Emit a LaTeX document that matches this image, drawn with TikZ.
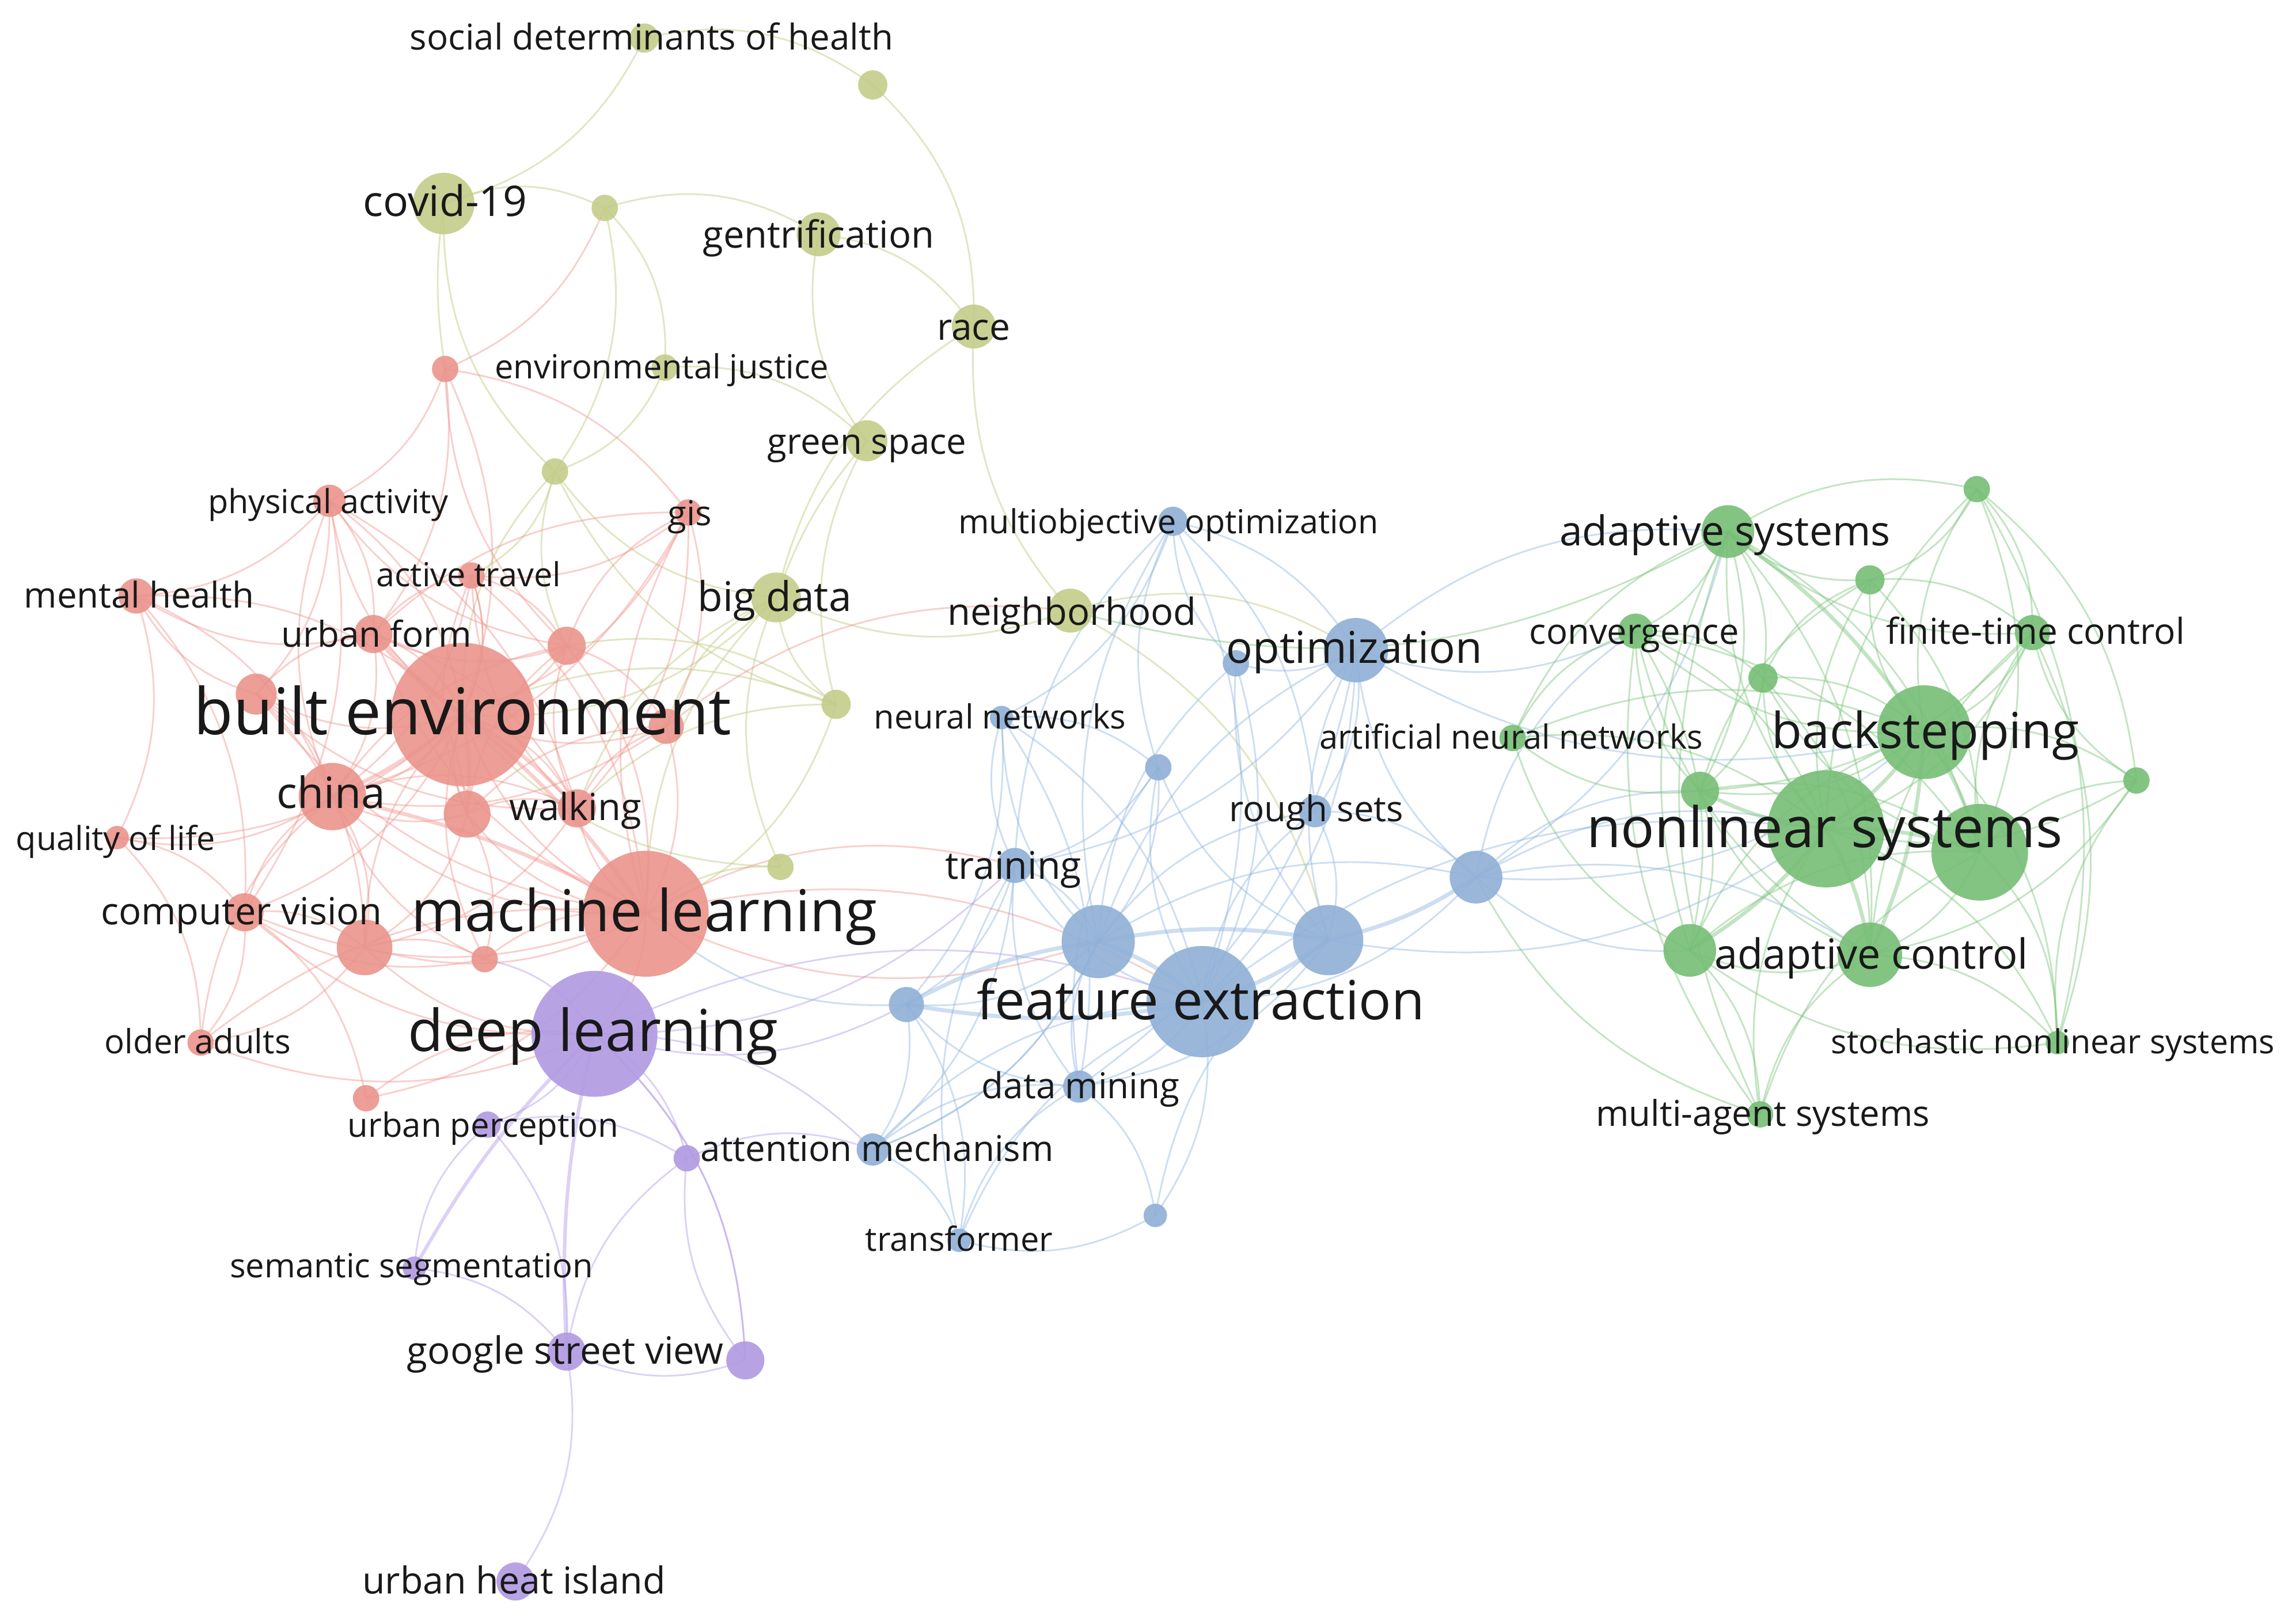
\documentclass[tikz,border=0pt]{standalone}
\usepackage{fontspec}
\setmainfont{Open Sans}
\usepackage{graphicx}
\definecolor{cred}{RGB}{234,148,140}
\definecolor{cyel}{RGB}{196,204,138}
\definecolor{cblu}{RGB}{144,176,215}
\definecolor{cgrn}{RGB}{118,190,118}
\definecolor{cpur}{RGB}{176,154,226}
\definecolor{ered}{RGB}{240,150,142}
\definecolor{eyel}{RGB}{202,210,146}
\definecolor{eblu}{RGB}{146,182,224}
\definecolor{egrn}{RGB}{122,196,122}
\definecolor{epur}{RGB}{180,154,234}
\definecolor{ctext}{RGB}{25,25,25}
\pgfdeclarelayer{edges}
\pgfsetlayers{edges,main}
\tikzset{
  kwbase/.style={circle, inner sep=0pt, draw=none, fill opacity=0.9},
  nred/.style={kwbase, fill=cred},
  nyel/.style={kwbase, fill=cyel},
  nblu/.style={kwbase, fill=cblu},
  ngrn/.style={kwbase, fill=cgrn},
  npur/.style={kwbase, fill=cpur},
  lab/.style={inner sep=0pt, text=ctext},
  ebase/.style={line width=1.15pt, draw opacity=0.45},
  ered/.style={ebase, draw=ered},
  eyel/.style={ebase, draw=eyel, draw opacity=0.55},
  eblu/.style={ebase, draw=eblu},
  egrn/.style={ebase, draw=egrn},
  epur/.style={ebase, draw=epur}
}
\newcommand\kwnode[5]{\node[#1, minimum size=2*#5pt] (#2) at (#3,#4) {};}
\newcommand\kwlabel[5]{\node[lab] (#1) at (#2,#3) {\resizebox{#4pt}{!}{\smash{#5}\vphantom{x}}};}
\begin{document}
\begin{tikzpicture}[x=1pt, y=-1pt]
\begin{pgfonlayer}{edges}
\fill[white] (0,0) rectangle (1568,1109);
\end{pgfonlayer}
\useasboundingbox (0,0) rectangle (1568,1109);
% ---------- nodes: yellow cluster
\kwnode{nyel}{sdoh}{440}{26}{10}
\kwnode{nyel}{y1}{596}{58}{10}
\kwnode{nyel}{covid}{303}{139}{21}
\kwnode{nyel}{y2}{413}{142}{9}
\kwnode{nyel}{gent}{559}{160}{15}
\kwnode{nyel}{race}{665}{223}{15}
\kwnode{nyel}{envj}{454}{251}{9}
\kwnode{nyel}{green}{592}{301}{14}
\kwnode{nyel}{y3}{379}{322}{9}
\kwnode{nyel}{bigdata}{530}{408}{17}
\kwnode{nyel}{neigh}{731}{417}{15}
\kwnode{nyel}{y4}{571}{481}{10}
\kwnode{nyel}{y5}{533}{592}{9}
% red cluster
\kwnode{nred}{r1}{304}{252}{9}
\kwnode{nred}{phys}{225}{342}{11}
\kwnode{nred}{gis}{470}{350}{9}
\kwnode{nred}{mental}{93}{407}{12}
\kwnode{nred}{active}{322}{393}{9}
\kwnode{nred}{urbform}{255}{433}{13}
\kwnode{nred}{r2}{387}{441}{13}
\kwnode{nred}{built}{316}{488}{49}
\kwnode{nred}{r3}{175}{474}{14}
\kwnode{nred}{r4}{455}{496}{12}
\kwnode{nred}{china}{227}{544}{23}
\kwnode{nred}{r5}{319}{556}{16}
\kwnode{nred}{walking}{394}{552}{13}
\kwnode{nred}{qol}{80}{572}{8}
\kwnode{nred}{cv}{167}{623}{13}
\kwnode{nred}{ml}{441}{624}{43}
\kwnode{nred}{r6}{249}{647}{19}
\kwnode{nred}{r7}{331}{655}{9}
\kwnode{nred}{older}{137}{712}{9}
\kwnode{nred}{r8}{250}{750}{9}
% purple cluster
\kwnode{npur}{deep}{406}{706}{43}
\kwnode{npur}{urbper}{333}{768}{9}
\kwnode{npur}{p1}{469}{791}{9}
\kwnode{npur}{semseg}{283}{866}{8}
\kwnode{npur}{gsv}{387}{923}{13}
\kwnode{npur}{p2}{509}{929}{13}
\kwnode{npur}{uhi}{352}{1080}{13}
% blue cluster
\kwnode{nblu}{multi}{801}{356}{10}
\kwnode{nblu}{opt}{926}{444}{22}
\kwnode{nblu}{b1}{844}{453}{9}
\kwnode{nblu}{nn}{684}{490}{8}
\kwnode{nblu}{b2}{791}{524}{9}
\kwnode{nblu}{rough}{898}{554}{11}
\kwnode{nblu}{training}{693}{591}{12}
\kwnode{nblu}{b3}{1008}{599}{18}
\kwnode{nblu}{b4}{750}{643}{25}
\kwnode{nblu}{b5}{907}{642}{24}
\kwnode{nblu}{fe}{821}{684}{38}
\kwnode{nblu}{b6}{619}{686}{12}
\kwnode{nblu}{dm}{737}{742}{11}
\kwnode{nblu}{attn}{596}{785}{11}
\kwnode{nblu}{b7}{789}{830}{8}
\kwnode{nblu}{transf}{655}{847}{8}
% green cluster
\kwnode{ngrn}{ann}{1033}{504}{9}
\kwnode{ngrn}{adsys}{1180}{363}{18}
\kwnode{ngrn}{g1}{1350}{334}{9}
\kwnode{ngrn}{g2}{1277}{396}{10}
\kwnode{ngrn}{conv}{1117}{431}{12}
\kwnode{ngrn}{ftc}{1388}{432}{12}
\kwnode{ngrn}{g3}{1204}{463}{10}
\kwnode{ngrn}{back}{1314}{500}{32}
\kwnode{ngrn}{g4}{1459}{533}{9}
\kwnode{ngrn}{g5}{1161}{540}{13}
\kwnode{ngrn}{nls}{1247}{566}{40}
\kwnode{ngrn}{g6}{1352}{582}{33}
\kwnode{ngrn}{g7}{1154}{649}{18}
\kwnode{ngrn}{adctrl}{1277}{652}{22}
\kwnode{ngrn}{snls}{1405}{712}{8}
\kwnode{ngrn}{mas}{1202}{761}{9}
% ---------- edges
\begin{pgfonlayer}{edges}
% yellow
\foreach \a/\b in {sdoh/covid, sdoh/y1, y1/race, covid/y2, y2/gent, gent/race, y2/envj, y2/y3, envj/green, envj/y3, green/gent, y3/covid, y4/bigdata, bigdata/y3, y4/y3, y5/bigdata, neigh/b5, neigh/opt, bigdata/built, y3/active, y4/ml, y5/built}
  \draw[eyel] (\a.center) to[bend left=24] (\b.center);
\foreach \a/\b in {race/bigdata, race/neigh, bigdata/neigh, green/y4, y4/built, y5/ml, bigdata/walking, y3/built, bigdata/ml, y4/r2, y3/r2, bigdata/r4, y4/walking}
  \draw[eyel] (\a.center) to[bend right=22] (\b.center);
\draw[eyel] (covid.center) to[bend right=8] (r1.center);
\draw[eyel] (green.center) to[bend right=10] (bigdata.center);
% red
\foreach \a/\b in {y2/r1, r1/phys, r1/built, r1/gis, r1/urbform, phys/mental, phys/urbform, phys/walking, phys/r3, gis/built, gis/active, gis/china, gis/walking, mental/built, mental/china, mental/cv, active/built, active/r2, active/china, urbform/built, urbform/china, urbform/walking, r2/built, r2/ml, r2/r4, built/r3, built/china, built/walking, built/cv, built/qol, r3/china, r3/r6, r4/ml, r4/china, china/walking, china/r6, china/qol, r5/walking, r5/r6, qol/cv, qol/older, cv/r6, cv/older, cv/r8, ml/r6, ml/deep, ml/training, ml/fe, r6/r7, r8/deep, r4/neigh, phys/cv, ml/urbform, ml/r3, r6/older, r5/r7, urbform/r5, walking/r6, gis/r4}
  \draw[ered] (\a.center) to[bend left=22] (\b.center);
\foreach \a/\b in {r1/r2, phys/built, phys/china, phys/r2, gis/r2, gis/urbform, gis/ml, mental/r3, mental/urbform, active/urbform, active/walking, active/r5, urbform/r3, urbform/r2, r2/walking, r2/china, built/r4, built/r5, built/ml, built/r6, built/r7, r4/walking, china/r5, china/cv, china/ml, china/r7, r5/ml, walking/ml, qol/mental, cv/ml, cv/deep, ml/r7, ml/b4, ml/older, r6/deep, r8/ml, older/deep, built/phys, ml/active, china/older, cv/r7, r3/walking, r2/r5, r4/r5, built/active}
  \draw[ered] (\a.center) to[bend right=22] (\b.center);
\foreach \a/\b in {built/ml, built/china, built/r5, built/walking, built/urbform, china/ml}
  \draw[ered, line width=2.6pt] (\a.center) to[bend left=8] (\b.center);
% purple
\foreach \a/\b in {deep/urbper, deep/p1, deep/p2, deep/attn, deep/fe, urbper/gsv, semseg/gsv, gsv/p1, gsv/uhi, urbper/p1, p1/attn}
  \draw[epur] (\a.center) to[bend left=22] (\b.center);
\foreach \a/\b in {deep/training, deep/r7, urbper/semseg, gsv/p2, p1/p2, deep/b6, p2/deep}
  \draw[epur] (\a.center) to[bend right=22] (\b.center);
\foreach \a/\b in {deep/gsv, deep/semseg}
  \draw[epur, line width=2.4pt] (\a.center) to[bend right=8] (\b.center);
% blue
\foreach \a/\b in {multi/nn, multi/opt, multi/fe, opt/b1, opt/fe, opt/rough, opt/training, b1/fe, nn/b2, nn/fe, nn/b6, b2/b4, b2/training, rough/b5, rough/b3, training/b4, training/b6, training/attn, b3/fe, b4/b6, b4/attn, b5/dm, fe/dm, fe/b7, b6/attn, b6/transf, dm/b7, attn/transf, b6/ml, b3/nls, b3/g5, b3/conv, b3/adctrl, opt/adsys, fe/nls, multi/rough, nn/dm, opt/dm, b7/b5}
  \draw[eblu] (\a.center) to[bend left=22] (\b.center);
\foreach \a/\b in {multi/b1, multi/training, multi/b4, opt/b5, opt/b3, opt/b4, b1/b5, b1/b4, nn/training, nn/b4, b2/fe, b2/b5, rough/fe, rough/b4, training/fe, training/dm, b3/b4, b4/dm, fe/attn, fe/transf, b6/dm, dm/attn, dm/transf, transf/b7, b3/back, b3/adsys, b3/g7, opt/conv, opt/back, b5/nls, multi/b2, b2/dm, training/transf, attn/b4}
  \draw[eblu] (\a.center) to[bend right=22] (\b.center);
\foreach \a/\b in {b4/fe, b5/fe, fe/b6, b3/b5, b6/b4, b4/b5}
  \draw[eblu, line width=2.8pt] (\a.center) to[bend left=10] (\b.center);
% green
\foreach \a/\b in {adsys/g1, adsys/conv, adsys/g3, adsys/g5, adsys/g6, adsys/adctrl, g1/ftc, g1/g6, g1/g4, g1/g2, g2/ftc, g2/g6, conv/g3, conv/nls, conv/g7, conv/g6, ftc/back, ftc/nls, ftc/snls, g3/back, g3/g5, back/g4, back/g5, back/snls, g4/nls, g4/adctrl, g5/g7, g5/g6, nls/snls, g6/adctrl, g6/snls, g7/mas, adctrl/snls, ann/back, ann/conv, ann/adsys, mas/b3, adsys/neigh, g1/snls, g3/adctrl, ftc/g5}
  \draw[egrn] (\a.center) to[bend left=22] (\b.center);
\foreach \a/\b in {adsys/g2, adsys/ftc, adsys/nls, adsys/g7, g1/back, g1/nls, g2/back, g2/nls, g2/g3, conv/back, conv/g5, conv/adctrl, ftc/g6, ftc/g4, ftc/adctrl, g3/nls, g3/g6, back/g7, g4/g6, g4/snls, g5/adctrl, nls/mas, nls/ann, g6/g7, g6/mas, g7/adctrl, g7/snls, adctrl/mas, ann/g5, ann/g7, adsys/mas, conv/mas, g2/g5}
  \draw[egrn] (\a.center) to[bend right=22] (\b.center);
\foreach \a/\b in {back/nls, back/g6, nls/g6, nls/adctrl, nls/g7, adsys/back, back/adctrl, nls/g5}
  \draw[egrn, line width=2.6pt] (\a.center) to[bend left=10] (\b.center);
\end{pgfonlayer}
% ---------- labels
\kwlabel{l1}{445}{27.5}{330}{social determinants of health}
\kwlabel{l2}{304}{140}{112}{covid-19}
\kwlabel{l3}{559}{162.5}{158}{gentrification}
\kwlabel{l4}{665}{225.5}{50}{race}
\kwlabel{l5}{452}{252.5}{228}{environmental justice}
\kwlabel{l6}{592}{303.5}{136}{green space}
\kwlabel{l7}{224}{344.5}{164}{physical activity}
\kwlabel{l8}{471}{352.5}{30}{gis}
\kwlabel{l9}{798}{358.5}{287}{multiobjective optimization}
\kwlabel{l10}{1178}{365}{226}{adaptive systems}
\kwlabel{l11}{320}{394.5}{126}{active travel}
\kwlabel{l12}{95}{408.5}{157}{mental health}
\kwlabel{l13}{529}{410}{105}{big data}
\kwlabel{l14}{732}{420}{170}{neighborhood}
\kwlabel{l15}{257}{435.5}{130}{urban form}
\kwlabel{l16}{1116}{433.5}{143}{convergence}
\kwlabel{l17}{1390}{433.5}{204}{finite-time control}
\kwlabel{l18}{925}{445}{175}{optimization}
\kwlabel{l19}{316}{490}{367}{built environment}
\kwlabel{l20}{683}{491.5}{172}{neural networks}
\kwlabel{l21}{1032}{505.5}{262}{artificial neural networks}
\kwlabel{l22}{1315}{502}{210}{backstepping}
\kwlabel{l23}{226}{544}{74}{china}
\kwlabel{l24}{393}{553.5}{90}{walking}
\kwlabel{l25}{899}{554.5}{119}{rough sets}
\kwlabel{l26}{1246}{568.5}{325}{nonlinear systems}
\kwlabel{l27}{79}{574.5}{136}{quality of life}
\kwlabel{l28}{692}{593.5}{93}{training}
\kwlabel{l29}{440}{625.5}{318}{machine learning}
\kwlabel{l30}{165}{624.5}{192}{computer vision}
\kwlabel{l31}{1278}{654}{214}{adaptive control}
\kwlabel{l32}{820}{686.5}{306}{feature extraction}
\kwlabel{l33}{405}{707.5}{253}{deep learning}
\kwlabel{l34}{135}{713.5}{127}{older adults}
\kwlabel{l35}{1402}{713.5}{303}{stochastic nonlinear systems}
\kwlabel{l36}{738}{743.5}{135}{data mining}
\kwlabel{l37}{1204}{762.5}{228}{multi-agent systems}
\kwlabel{l38}{330}{770.5}{185}{urban perception}
\kwlabel{l39}{599}{786.5}{241}{attention mechanism}
\kwlabel{l40}{655}{848.5}{128}{transformer}
\kwlabel{l41}{281}{866.5}{248}{semantic segmentation}
\kwlabel{l42}{386}{924.5}{216}{google street view}
\kwlabel{l43}{351}{1081.5}{207}{urban heat island}
\end{tikzpicture}
\end{document}
